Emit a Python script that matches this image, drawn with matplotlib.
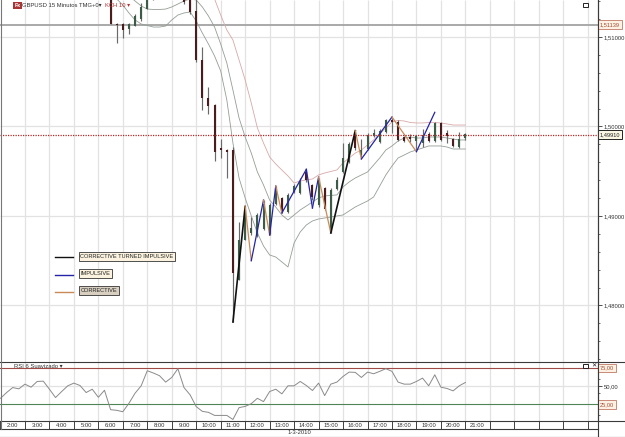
import numpy as np
import matplotlib
matplotlib.use("Agg")
import matplotlib.pyplot as plt
from matplotlib.lines import Line2D
from matplotlib.patches import Rectangle
from matplotlib.ticker import FuncFormatter, MultipleLocator

plt.rcParams['font.family'] = ['Liberation Sans', 'DejaVu Sans']

# 15 minute candles, first bar at 6:30 (hours of the day)
candle_start = 6.5
highs = [1.51469, 1.51156, 1.51156, 1.51156, 1.51257, 1.51379, 1.51469, 1.51500, 1.51550, 1.51560,
         1.51550, 1.51540, 1.51500, 1.51520, 1.51500, 1.50888, 1.50441, 1.50251, 1.49860, 1.49748,
         1.49771, 1.48933, 1.49111, 1.48988, 1.49033, 1.49178, 1.49145, 1.49335, 1.49212, 1.49257,
         1.49357, 1.49424, 1.49513, 1.49357, 1.49424, 1.49324, 1.49312, 1.49435, 1.49815, 1.49826,
         1.49960, 1.49860, 1.49927, 1.49972, 1.49972, 1.50083, 1.50095, 1.50072, 1.49893, 1.49916,
         1.49905, 1.49972, 1.49938, 1.50050, 1.50050, 1.49961, 1.49871, 1.49938, 1.49927]
lows = [1.51145, 1.50933, 1.50988, 1.51033, 1.51123, 1.51178, 1.51312, 1.51418, 1.51450, 1.51450,
        1.51450, 1.51450, 1.51368, 1.51257, 1.50720, 1.50184, 1.50139, 1.49614, 1.49648, 1.49424,
        1.47815, 1.48285, 1.48731, 1.48787, 1.48765, 1.48843, 1.48787, 1.49123, 1.49033, 1.49033,
        1.49257, 1.49246, 1.49380, 1.49178, 1.49100, 1.49067, 1.48810, 1.49290, 1.49480, 1.49592,
        1.49737, 1.49648, 1.49737, 1.49882, 1.49815, 1.49927, 1.49927, 1.49838, 1.49826, 1.49826,
        1.49737, 1.49771, 1.49826, 1.49826, 1.49838, 1.49815, 1.49771, 1.49760, 1.49849]
opens = [1.51447, 1.51145, 1.51145, 1.51089, 1.51123, 1.51201, 1.51312, 1.51420, 1.51470, 1.51510,
         1.51480, 1.51500, 1.51460, 1.51435, 1.51290, 1.50743, 1.50318, 1.50240, 1.49759, 1.49737,
         1.49737, 1.48285, 1.48731, 1.48810, 1.48776, 1.48854, 1.48798, 1.49134, 1.49201, 1.49044,
         1.49268, 1.49257, 1.49491, 1.49346, 1.49122, 1.49313, 1.48821, 1.49301, 1.49491, 1.49603,
         1.49938, 1.49681, 1.49748, 1.49893, 1.49826, 1.49938, 1.50072, 1.50050, 1.49882, 1.49882,
         1.49838, 1.49815, 1.49916, 1.49838, 1.50039, 1.49927, 1.49860, 1.49771, 1.49871]
closes = [1.51145, 1.51134, 1.51078, 1.51145, 1.51234, 1.51335, 1.51413, 1.51470, 1.51510, 1.51480,
          1.51500, 1.51470, 1.51391, 1.51279, 1.50743, 1.50318, 1.50229, 1.49715, 1.49737, 1.49715,
          1.48363, 1.48731, 1.49067, 1.48866, 1.49011, 1.49134, 1.49123, 1.49313, 1.49044, 1.49234,
          1.49335, 1.49391, 1.49402, 1.49212, 1.49402, 1.49078, 1.49290, 1.49402, 1.49648, 1.49804,
          1.49759, 1.49737, 1.49905, 1.49927, 1.49949, 1.50072, 1.50050, 1.49849, 1.49838, 1.49860,
          1.49893, 1.49905, 1.49838, 1.50039, 1.49849, 1.49893, 1.49782, 1.49860, 1.49916]

# Keltner channel lines, one value per bar
upper_start = 10.75
upper_band = [1.51424, 1.51245, 1.51078, 1.50966, 1.50743, 1.50519, 1.50262, 1.49983, 1.49815, 1.49659,
              1.49581, 1.49513, 1.49447, 1.49368, 1.49391, 1.49402, 1.49413, 1.49458, 1.49480, 1.49497,
              1.49514, 1.49592, 1.49648, 1.49703, 1.49737, 1.49793, 1.49849, 1.49916, 1.49983, 1.50050,
              1.50067, 1.50061, 1.50044, 1.50039, 1.50039, 1.50044, 1.50044, 1.50039, 1.50028, 1.50016,
              1.50016, 1.50016]
mid_start = 7.25
mid_band = [1.51458, 1.51402, 1.51346, 1.51312, 1.51307, 1.51307, 1.51312, 1.51335, 1.51368, 1.51402,
            1.51424, 1.51413, 1.51335, 1.51234, 1.51111, 1.50921, 1.50709, 1.50407, 1.50095, 1.49882,
            1.49703, 1.49491, 1.49346, 1.49178, 1.49100, 1.49011, 1.48955, 1.49011, 1.49067, 1.49111,
            1.49156, 1.49201, 1.49224, 1.49229, 1.49235, 1.49324, 1.49380, 1.49424, 1.49458, 1.49491,
            1.49569, 1.49648, 1.49737, 1.49782, 1.49838, 1.49871, 1.49882, 1.49871, 1.49871, 1.49882,
            1.49882, 1.49882, 1.49871, 1.49860, 1.49849, 1.49849]
lower_start = 6.75
lower_band = [1.51424, 1.51357, 1.51268, 1.51190, 1.51145, 1.51128, 1.51111, 1.51111, 1.51122, 1.51190,
              1.51245, 1.51268, 1.51279, 1.51178, 1.51044, 1.50921, 1.50787, 1.50620, 1.50296, 1.49815,
              1.49424, 1.49201, 1.49000, 1.48810, 1.48664, 1.48564, 1.48541, 1.48486, 1.48430, 1.48698,
              1.48821, 1.48899, 1.48944, 1.48966, 1.48977, 1.48988, 1.49000, 1.49011, 1.49056, 1.49100,
              1.49134, 1.49167, 1.49212, 1.49335, 1.49458, 1.49558, 1.49648, 1.49681, 1.49715, 1.49737,
              1.49759, 1.49782, 1.49782, 1.49782, 1.49770, 1.49748, 1.49748, 1.49748]

# Hand drawn wave legs: turning points and the kind of each leg
pivot_times = [11.5, 12, 12.25, 12.75, 13, 13.25, 13.5, 14.5, 14.75, 15, 15.5, 16.5, 16.75, 18, 19, 19.75]
pivot_prices = [1.47815, 1.49106, 1.48500, 1.49178, 1.48787, 1.49335, 1.49033, 1.49521,
                1.49089, 1.49435, 1.48810, 1.49953, 1.49636, 1.50106, 1.49718, 1.50158]
leg_kinds = ['turned', 'corrective', 'impulsive', 'corrective', 'impulsive', 'corrective', 'impulsive',
             'impulsive', 'impulsive', 'corrective', 'turned', 'corrective', 'impulsive', 'corrective',
             'impulsive']

# RSI, one value per bar from 2:00
rsi_start = 2.0
rsi_values = [33.3, 41.2, 48.1, 46.3, 52.8, 48.6, 56.5, 56.9, 45.8, 34.3, 42.6, 50.5, 54.2, 50.9, 41.2,
              45.8, 34.7, 44.4, 17.6, 16.7, 14.8, 26.4, 40.3, 50.5, 71.3, 68.1, 64.4, 55.6, 62.0, 74.1,
              48.1, 38.0, 21.8, 15.3, 13.9, 9.7, 9.7, 9.7, 4.1, 20.4, 22.1, 25.9, 33.3, 28.7, 42.6,
              45.8, 39.4, 50.5, 50.5, 56.5, 50.9, 44.0, 54.2, 37.0, 52.8, 55.6, 63.4, 69.4, 69.0, 62.0,
              69.4, 67.1, 70.4, 74.1, 70.4, 55.6, 52.8, 52.8, 56.5, 61.1, 50.5, 65.7, 48.6, 46.8, 43.5,
              50.5, 55.1]

hour_labels = ['%d:00' % h for h in range(2, 22)]
price_line = 1.51139
last_price = 1.49910

W, H = 625, 437
X_LEFT, X_RIGHT = 1.98, 26.4
GRID = '#e2e2e2'
FRAME = '#3a3a3a'
LEG_COLORS = {'turned': '#111111', 'impulsive': '#2424a8', 'corrective': '#c98a58'}


def panel(fig, top, bottom):
    # axes given by its pixel rows, measured from the top of the figure
    ax = fig.add_axes([0, 1 - bottom / H, 597.5 / W, (bottom - top) / H])
    ax.set_xlim(X_LEFT, X_RIGHT)
    for side in ['top', 'bottom', 'left']:
        ax.spines[side].set_visible(False)
    ax.spines['right'].set_color(FRAME)
    ax.spines['right'].set_linewidth(0.8)
    ax.yaxis.tick_right()
    ax.set_xticks([])
    ax.tick_params(axis='y', which='major', length=3, width=0.6, labelsize=4.2, pad=1.5,
                   colors='#333333')
    ax.tick_params(axis='y', which='minor', length=1.5, width=0.5, colors='#333333')
    ax.vlines(np.arange(3, 27), 0, 1, transform=ax.get_xaxis_transform(), color=GRID, lw=0.9, zorder=0)
    return ax


def boxed(ax, y, text, edge, face, color, x=1.004):
    ax.text(x, y, text, transform=ax.get_yaxis_transform(), fontsize=4.1, color=color, va='center',
            ha='left', clip_on=False, zorder=6,
            bbox=dict(boxstyle='square,pad=0.3', fc=face, ec=edge, lw=0.7))


def window_square(x, y):
    fig.add_artist(Rectangle((x / W, 1 - (y + 4) / H), 5 / W, 4 / H, transform=fig.transFigure,
                             fc='white', ec='#222222', lw=0.7))


fig = plt.figure(figsize=(W / 100, H / 100), dpi=100, facecolor='white')

# price panel
ax = panel(fig, 0, 362)
ax.set_ylim(1.47368, 1.51413)
ax.yaxis.set_major_locator(MultipleLocator(0.01))
ax.yaxis.set_minor_locator(MultipleLocator(0.002))
ax.yaxis.set_major_formatter(FuncFormatter(lambda v, pos: ('%.5f' % v).replace('.', ',')))
ax.grid(False)
ax.hlines([1.48, 1.49, 1.50, 1.51], X_LEFT, X_RIGHT, color=GRID, lw=0.9, zorder=0)
ax.axhline(price_line, color='#a3a3a3', lw=1.3, zorder=1)
ax.axhline(last_price, color='#b02828', lw=0.9, ls=(0, (1, 1)), zorder=5)

for values, start, color in [(upper_band, upper_start, '#d8a8a8'),
                             (mid_band, mid_start, '#949e95'),
                             (lower_band, lower_start, '#949e95')]:
    ax.plot(start + 0.25 * np.arange(len(values)), values, color=color, lw=0.6, zorder=2)

bar_times = candle_start + 0.25 * np.arange(len(closes))
ax.vlines(bar_times, lows, highs, color='#6a6a6a', lw=0.85, zorder=3)
body_colors = ['#3d5c48' if c >= o else '#4a1c1e' for o, c in zip(opens, closes)]
ax.vlines(bar_times, opens, closes, color=body_colors, lw=1.5, zorder=3)

for i, kind in enumerate(leg_kinds):
    ax.plot(pivot_times[i:i + 2], pivot_prices[i:i + 2], color=LEG_COLORS[kind],
            lw=1.2 if kind == 'turned' else 0.9, zorder=4)

boxed(ax, price_line, '1,51139', '#c98a78', '#fdf1e4', '#a04a30')
boxed(ax, last_price, '1,49910', '#222222', '#fbf6e4', '#222222')

# legend for the wave legs
legend_rows = [(257.3, 'turned', 'CORRECTIVE TURNED IMPULSIVE', '#fbf3df'),
               (274.7, 'impulsive', 'IMPULSIVE', '#fbf3df'),
               (291.7, 'corrective', 'CORRECTIVE', '#d8cfc0')]
for y, kind, label, face in legend_rows:
    fig.add_artist(Line2D([55 / W, 73 / W], [1 - y / H] * 2, color=LEG_COLORS[kind], lw=1.0))
    fig.text(80.5 / W, 1 - (y - 1) / H, label, fontsize=4.1, va='center', ha='left', color='#222222',
             bbox=dict(boxstyle='square,pad=0.3', fc=face, ec='#333333', lw=0.6))

# chart header
fig.add_artist(Rectangle((13 / W, 1 - 9 / H), 8.5 / W, 6.5 / H, transform=fig.transFigure,
                         fc='#a83434', ec='none'))
fig.text(17.2 / W, 1 - 5.8 / H, 'Fx', fontsize=3.8, color='white', ha='center', va='center',
         fontweight='bold')
fig.text(22 / W, 1 - 5.5 / H, 'GBPUSD 15 Minutos TMG+0\u25be', fontsize=4.2, color='#333333', va='center')
fig.text(105 / W, 1 - 5.5 / H, 'KCH 10 \u25be', fontsize=4.2, color='#b03030', va='center')

# RSI panel
rsi_ax = panel(fig, 362, 421)
rsi_ax.set_ylim(2, 83.3)
rsi_ax.set_yticks([50])
rsi_ax.yaxis.set_minor_locator(MultipleLocator(10))
rsi_ax.yaxis.set_major_formatter(FuncFormatter(lambda v, pos: ('%.2f' % v).replace('.', ',')))
rsi_ax.hlines(50, X_LEFT, X_RIGHT, color=GRID, lw=0.9, zorder=0)
rsi_ax.axhline(75, color='#a04a48', lw=0.8, zorder=2)
rsi_ax.axhline(25, color='#4f8456', lw=0.8, zorder=2)
rsi_ax.plot(rsi_start + 0.25 * np.arange(len(rsi_values)), rsi_values, color='#8a8a8a', lw=0.7, zorder=3)
boxed(rsi_ax, 75, '75,00', '#c98a78', '#fdf1e4', '#a04a30')
boxed(rsi_ax, 25, '25,00', '#c98a78', '#fdf1e4', '#a04a30')
fig.text(14 / W, 1 - 366 / H, 'RSI 6 Suavizado \u25be', fontsize=4.2, color='#333333', va='center')

window_square(583, 2.5)
window_square(583, 364)
fig.text(593.5 / W, 1 - 366 / H, '\u2715', fontsize=4.5, color='#222222', ha='center', va='center')

# hour strip under the panels
time_ax = fig.add_axes([0, 1 - 429 / H, 597.5 / W, 8 / H])
time_ax.set_xlim(X_LEFT, X_RIGHT)
time_ax.set_ylim(0, 1)
time_ax.axis('off')
time_ax.vlines(np.arange(2, 27), 0, 1, color='#222222', lw=0.6)
for i, label in enumerate(hour_labels):
    time_ax.text(2.5 + i, 0.45, label, fontsize=4.2, ha='center', va='center', color='#333333')

# panel frames
for y, x_end in [(362, 625), (421, 625), (429, 597.5), (436.5, 625)]:
    fig.add_artist(Line2D([0, x_end / W], [1 - y / H] * 2, color=FRAME, lw=0.8))
fig.add_artist(Line2D([0.5 / W, 0.5 / W], [1 - 429 / H, 1], color='#777777', lw=0.8))
fig.add_artist(Line2D([597.5 / W, 597.5 / W], [0, 1], color=FRAME, lw=0.8))
fig.text(299 / W, 1 - 433 / H, '1-3-2010', fontsize=4.2, ha='center', va='center', color='#333333')

fig.savefig('out.png', dpi=100)
